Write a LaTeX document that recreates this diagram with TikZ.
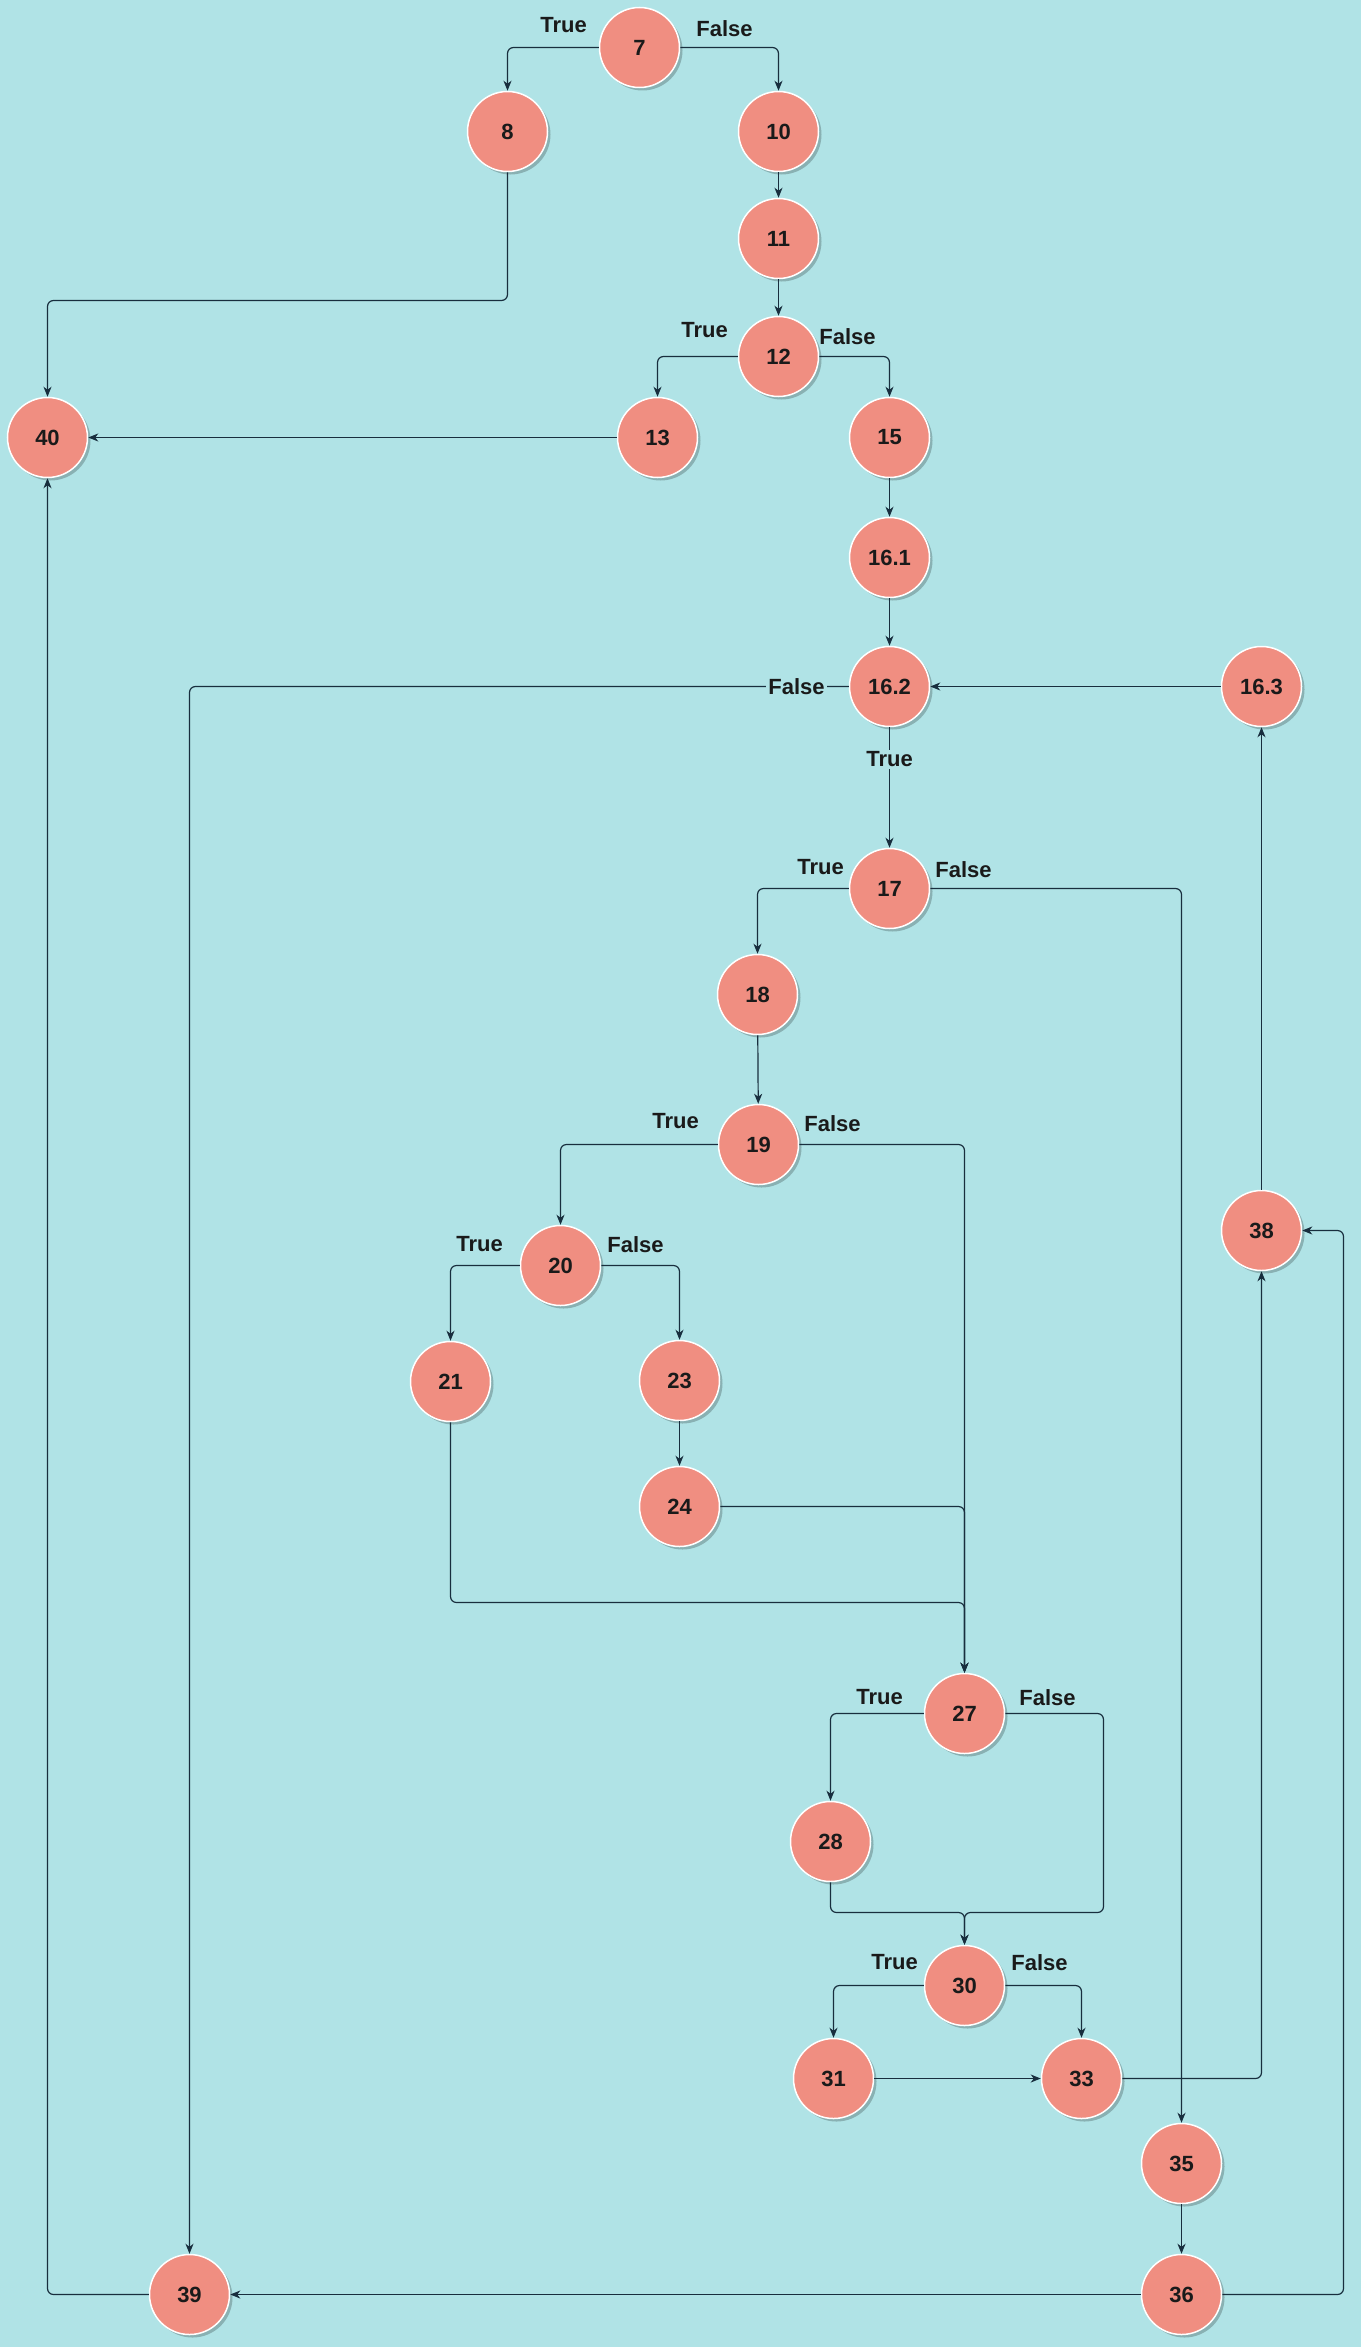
\documentclass[tikz,border=0pt]{standalone}
\usepackage{fontspec}
\setmainfont{Liberation Sans}
\usetikzlibrary{arrows.meta,shadows}
\definecolor{bgc}{HTML}{B0E3E6}
\definecolor{nfill}{HTML}{F08E81}
\definecolor{edgec}{HTML}{182E3E}
\definecolor{txtc}{HTML}{1A1A1A}
\tikzset{
  cfg/.style={circle, fill=nfill, draw=white, line width=1.5pt, minimum size=80pt, inner sep=0pt,
    text=txtc, font=\fontsize{22}{26}\selectfont\bfseries,
    drop shadow={shadow xshift=3pt, shadow yshift=-3pt, opacity=0.22, fill=black}},
  lbl/.style={text=txtc, font=\fontsize{22}{26}\selectfont\bfseries, inner sep=1pt},
  onln/.style={lbl, fill=bgc, inner sep=2pt},
  edge/.style={draw=edgec, line width=1.2pt, rounded corners=6pt,
    -{Stealth[length=10pt,width=8pt,inset=3pt]}}
}
\begin{document}
\begin{tikzpicture}[x=1pt,y=-1pt]
\fill[bgc] (0,0) rectangle (1361,2347);
\useasboundingbox (0,0) rectangle (1361,2347);
\begin{scope}[shift={(0.5,0.5)}]
% nodes
\node[cfg] (n7)   at (639,47)   {7};
\node[cfg] (n8)   at (507,131)  {8};
\node[cfg] (n10)  at (778,131)  {10};
\node[cfg] (n11)  at (778,238)  {11};
\node[cfg] (n12)  at (778,356)  {12};
\node[cfg] (n13)  at (657,437)  {13};
\node[cfg] (n15)  at (889,437)  {15};
\node[cfg] (n40)  at (47,437)   {40};
\node[cfg] (n161) at (889,557)  {16.1};
\node[cfg] (n162) at (889,686)  {16.2};
\node[cfg] (n163) at (1261,686) {16.3};
\node[cfg] (n17)  at (889,888)  {17};
\node[cfg] (n18)  at (757,994)  {18};
\node[cfg] (n19)  at (758,1144) {19};
\node[cfg] (n20)  at (560,1265) {20};
\node[cfg] (n21)  at (450,1381) {21};
\node[cfg] (n23)  at (679,1380) {23};
\node[cfg] (n24)  at (679,1506) {24};
\node[cfg] (n27)  at (964,1713) {27};
\node[cfg] (n28)  at (830,1841) {28};
\node[cfg] (n30)  at (964,1985) {30};
\node[cfg] (n31)  at (833,2078) {31};
\node[cfg] (n33)  at (1081,2078) {33};
\node[cfg] (n35)  at (1181,2163) {35};
\node[cfg] (n36)  at (1181,2294) {36};
\node[cfg] (n38)  at (1261,1230) {38};
\node[cfg] (n39)  at (189,2294) {39};

% helper coordinates
\coordinate (y8) at (0,300);
\coordinate (y21) at (0,1602);
\coordinate (y2730) at (0,1912);
\coordinate (x27f) at (1103,0);
\coordinate (x36) at (1343,0);

% edges
\draw[edge] (n7.west) -| (n8.north);
\draw[edge] (n7.east) -| (n10.north);
\draw[edge] (n10) -- (n11);
\draw[edge] (n11) -- (n12);
\draw[edge] (n8.south) -- (n8 |- y8) -- (n40 |- y8) -- (n40.north);
\draw[edge] (n12.west) -| (n13.north);
\draw[edge] (n12.east) -| (n15.north);
\draw[edge] (n13) -- (n40);
\draw[edge] (n15) -- (n161);
\draw[edge] (n161) -- (n162);
\draw[edge] (n163) -- (n162);
\draw[edge] (n162.west) -| (n39.north);
\draw[edge] (n162) -- (n17);
\draw[edge] (n17.west) -| (n18.north);
\draw[edge] (n17.east) -| (n35.north);
\draw[edge] (n18) -- (n19);
\draw[edge] (n19.west) -| (n20.north);
\draw[edge] (n19.east) -| (n27.north);
\draw[edge] (n20.west) -| (n21.north);
\draw[edge] (n20.east) -| (n23.north);
\draw[edge] (n23) -- (n24);
\draw[edge] (n24.east) -| (n27.north);
\draw[edge] (n21.south) -- (n21 |- y21) -- (n27 |- y21) -- (n27.north);
\draw[edge] (n27.west) -| (n28.north);
\draw[edge] (n27.east) -- (x27f |- n27) -- (x27f |- y2730) -- (n30 |- y2730) -- (n30.north);
\draw[edge] (n28.south) -- (n28 |- y2730) -- (n30 |- y2730) -- (n30.north);
\draw[edge] (n30.west) -| (n31.north);
\draw[edge] (n30.east) -| (n33.north);
\draw[edge] (n31) -- (n33);
\draw[edge] (n33.east) -| (n38.south);
\draw[edge] (n35) -- (n36);
\draw[edge] (n36) -- (n39);
\draw[edge] (n36.east) -- (x36 |- n36) -- (x36 |- n38) -- (n38.east);
\draw[edge] (n38) -- (n163);
\draw[edge] (n39.west) -| (n40.south);

% labels
\node[lbl] (l7t)  at (563,25)   {True};
\node[lbl] (l7f)  at (724,28)   {False};
\node[lbl] (l12t) at (704,330)  {True};
\node[lbl] (l12f) at (847,336)  {False};
\node[onln] (l162f) at (796,686) {False};
\node[onln] (l162t) at (889,759) {True};
\node[lbl] (l17t) at (820,867)  {True};
\node[lbl] (l17f) at (963,869)  {False};
\node[lbl] (l19t) at (675,1121) {True};
\node[lbl] (l19f) at (832,1123) {False};
\node[lbl] (l20t) at (479,1244) {True};
\node[lbl] (l20f) at (635,1244) {False};
\node[lbl] (l27t) at (879,1697) {True};
\node[lbl] (l27f) at (1047,1697) {False};
\node[lbl] (l30t) at (894,1962) {True};
\node[lbl] (l30f) at (1039,1962) {False};
\end{scope}
\end{tikzpicture}
\end{document}
